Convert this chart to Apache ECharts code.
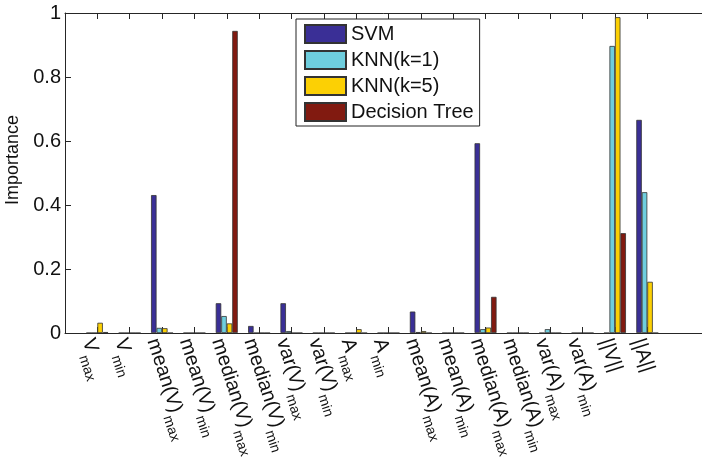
<!DOCTYPE html>
<html>
<head>
<meta charset="utf-8">
<script src="https://cdn.jsdelivr.net/npm/echarts@6/dist/echarts.min.js"></script>
<style>
html,body{margin:0;padding:0;background:#fff;}
#c{width:702px;height:460px;}
</style>
</head>
<body>
<div id="c"></div>
<script>
// Feature names: base text and subscript
const catBase = ['V','V','mean(V)','mean(V)','median(V)','median(V)','var(V)','var(V)','A','A',
  'mean(A)','mean(A)','median(A)','median(A)','var(A)','var(A)','||V||','||A||'];
const catSub = ['max','min','max','min','max','min','max','min','max','min',
  'max','min','max','min','max','min','',''];
const seriesNames = ['SVM','KNN(k=1)','KNN(k=5)','Decision Tree'];
const svm  = [0, 0, 0.431, 0, 0.093, 0.022, 0.093, 0, 0, 0, 0.067, 0, 0.593, 0, 0, 0, 0, 0.666];
const knn1 = [0, 0, 0.016, 0, 0.053, 0, 0.006, 0, 0, 0, 0.003, 0, 0.012, 0, 0.012, 0, 0.897, 0.440];
const knn5 = [0.032, 0, 0.015, 0, 0.030, 0, 0, 0, 0.012, 0, 0.006, 0, 0.017, 0, 0, 0, 0.987, 0.160];
const dtree= [0.003, 0, 0, 0, 0.944, 0, 0, 0, 0, 0, 0, 0, 0.113, 0, 0, 0, 0.312, 0];
const yTicks = [0, 0.2, 0.4, 0.6, 0.8, 1];
const colors = ['#3a2f96','#6ecede','#fcd004','#811a10'];

// axis spans 0..20 in MATLAB units; features sit at 1..18
const categories = [''].concat(catBase.map((b,i)=> catSub[i] ? b + '_' + catSub[i] : b), ['', '']);
function pad(arr){ return [null].concat(arr, [null, null]); }
const seriesData = [svm, knn1, knn5, dtree];

const FONT = '"Liberation Sans", Arial, Helvetica, sans-serif';
const chart = echarts.init(document.getElementById('c'), null, {renderer:'canvas'});
const axisLineStyle = {color:'#262626', width:1};

chart.setOption({
  animation:false,
  backgroundColor:'#fff',
  textStyle:{fontFamily:FONT},
  grid:{left:65, top:13, right:-10, bottom:127, containLabel:false, outerBoundsMode:'none'},
  legend:{
    orient:'vertical', left:296, top:19,
    data:seriesNames,
    icon:'rect', itemWidth:41, itemHeight:18, itemGap:6,
    padding:[5,6,4,8],
    borderColor:'#222', borderWidth:1, backgroundColor:'#fff',
    textStyle:{fontSize:20, color:'#111', fontFamily:FONT, lineHeight:18}
  },
  xAxis:[{
    type:'category', data:categories, boundaryGap:false, position:'bottom',
    axisLine:{lineStyle:axisLineStyle},
    axisTick:{inside:true, length:6, lineStyle:axisLineStyle, interval:(i,v)=> v!==''},
    axisLabel:{
      interval:0, rotate:-72, margin:3, align:'left', verticalAlign:'middle',
      padding:[40,0,0,0],
      color:'#111', fontFamily:FONT,
      formatter:(v)=>{
        if(!v) return '';
        const parts = v.split('_');
        return parts[1] ? '{b|'+parts[0]+'}{s|'+parts[1]+'}' : '{b|'+parts[0]+'}{s|}';
      },
      rich:{
        b:{fontSize:20, lineHeight:20, padding:[0,0,20,0], fontFamily:FONT, color:'#111'},
        s:{fontSize:14, lineHeight:14, padding:[0,0,0,1], fontFamily:FONT, color:'#111'}
      }
    },
    splitLine:{show:false}
  },{
    type:'category', data:categories, boundaryGap:false, position:'top',
    axisLine:{lineStyle:axisLineStyle},
    axisTick:{inside:true, length:6, lineStyle:axisLineStyle, interval:(i,v)=> v!==''},
    axisLabel:{show:false}, splitLine:{show:false}
  }],
  yAxis:{
    type:'value', min:0, max:1, interval:0.2,
    name:'Importance', nameLocation:'middle', nameGap:34,
    nameTextStyle:{fontSize:18, color:'#111', fontFamily:FONT, padding:[0,0,0,26]},
    axisLine:{show:true, lineStyle:axisLineStyle},
    axisTick:{show:true, inside:true, length:6, lineStyle:axisLineStyle},
    axisLabel:{fontSize:20, color:'#111', margin:4, fontFamily:FONT,
      formatter:(v)=> String(+v.toFixed(1))},
    splitLine:{show:false}
  },
  series: seriesNames.map((n,k)=>({
    name:n, type:'bar', xAxisIndex:0, data:pad(seriesData[k]),
    barWidth:5.5, barGap:'0%',
    itemStyle:{color:colors[k], borderColor:'#333', borderWidth:0.8},
    emphasis:{disabled:true}
  }))
});
</script>
</body>
</html>
